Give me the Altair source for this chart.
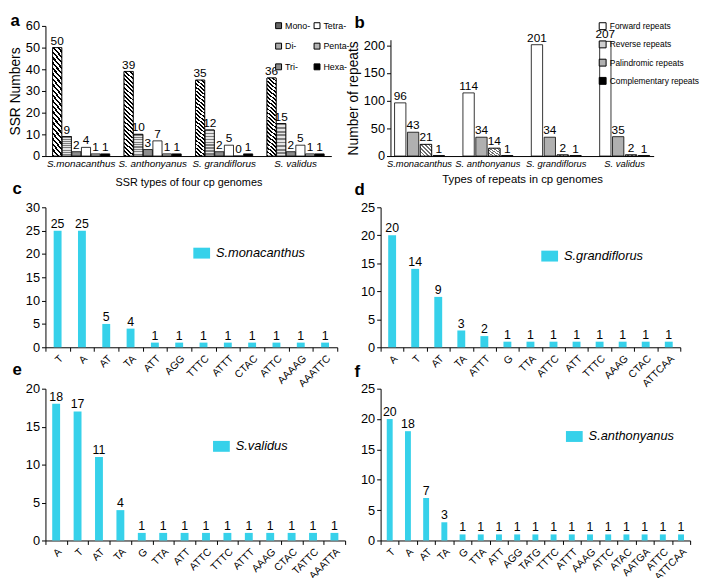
import json
import altair as alt
import pandas as pd

FONT = "Liberation Sans, Arial, sans-serif"

# ---------------- data ----------------
species = ["S.monacanthus", "S. anthonyanus", "S. grandiflorus", "S. validus"]
ssr_types = ["Mono-", "Di-", "Tri-", "Tetra-", "Penta-", "Hexa-"]
ssr_mono = [50, 39, 35, 36]
ssr_di = [9, 10, 12, 15]
ssr_tri = [2, 3, 2, 2]
ssr_tetra = [4, 7, 5, 5]
ssr_penta = [1, 1, 0, 1]
ssr_hexa = [1, 1, 1, 1]

repeat_types = ["Forward repeats", "Reverse repeats", "Palindromic repeats", "Complementary repeats"]
repeat_bar_order = ["Forward repeats", "Palindromic repeats", "Reverse repeats", "Complementary repeats"]
rep_forward = [96, 114, 201, 207]
rep_reverse = [21, 14, 2, 2]
rep_palindromic = [43, 34, 34, 35]
rep_complement = [1, 1, 1, 1]

c_motifs = ["T", "A", "AT", "TA", "ATT", "AGG", "TTTC", "ATTT", "CTAC", "ATTC", "AAAAG", "AAATTC"]
c_counts = [25, 25, 5, 4, 1, 1, 1, 1, 1, 1, 1, 1]
d_motifs = ["A", "T", "AT", "TA", "ATTT", "G", "TTA", "ATTC", "ATT", "TTTC", "AAAG", "CTAC", "ATTCAA"]
d_counts = [20, 14, 9, 3, 2, 1, 1, 1, 1, 1, 1, 1, 1]
e_motifs = ["A", "T", "AT", "TA", "G", "TTA", "ATT", "ATTC", "TTTC", "ATTT", "AAAG", "CTAC", "TATTC", "AAATTA"]
e_counts = [18, 17, 11, 4, 1, 1, 1, 1, 1, 1, 1, 1, 1, 1]
f_motifs = ["T", "A", "AT", "TA", "G", "TTA", "ATT", "AGG", "TATG", "TTTC", "ATTT", "AAAG", "ATTC", "ATAC", "AATGA", "ATTC", "ATTCAA"]
f_counts = [20, 18, 7, 3, 1, 1, 1, 1, 1, 1, 1, 1, 1, 1, 1, 1, 1]

CYAN = "#36d1ea"


# ---------------- helpers ----------------
def stripe_stops(n, c1, c2, frac=0.5):
    stops = []
    for i in range(n):
        a = i / n
        m = (i + frac) / n
        b = (i + 1) / n
        stops += [
            alt.GradientStop(offset=a, color=c1),
            alt.GradientStop(offset=m, color=c1),
            alt.GradientStop(offset=m, color=c2),
            alt.GradientStop(offset=b, color=c2),
        ]
    return stops


def diag_gradient(r, n, c1, c2, frac=0.45):
    # backslash-direction stripes for a bar with height/width ratio r
    k = (1 + r) / (1 + r * r)
    return alt.LinearGradient(gradient="linear", stops=stripe_stops(n, c1, c2, frac),
                              x1=0, y1=1, x2=k, y2=1 - r * k)


def horiz_gradient(n, c1, c2, frac=0.5):
    return alt.LinearGradient(gradient="linear", stops=stripe_stops(n, c1, c2, frac),
                              x1=0, y1=0, x2=0, y2=1)


def letter_layer(df, field, sort, text, tx, ty):
    # panel letter drawn as the title of a label-less top axis
    return alt.Chart(df).mark_bar(opacity=0).encode(
        x=alt.X(f"{field}:N", sort=sort,
                axis=alt.Axis(orient="top", labels=False, ticks=False, domain=False, title=text,
                              titleX=tx, titleY=ty, titleAngle=0, titleAlign="left",
                              titleBaseline="top", titleFontSize=17, titleFontWeight="bold",
                              titleColor="black", titleFont=FONT))
    )


# ---------------- panel a ----------------
rows = []
for t, vals in zip(ssr_types, [ssr_mono, ssr_di, ssr_tri, ssr_tetra, ssr_penta, ssr_hexa]):
    for s, v in zip(species, vals):
        rows.append({"species": s, "type": t, "value": v})
df_a = pd.DataFrame(rows)

base_a = alt.Chart(df_a).encode(
    x=alt.X("species:N", sort=species, title="SSR types of four cp genomes",
            scale=alt.Scale(paddingInner=0.2, paddingOuter=0.1),
            axis=alt.Axis(labelAngle=0, labelFontStyle="italic", labelFontSize=10,
                          ticks=False, labelOverlap=False, titleFontSize=11,
                          titleFontWeight="normal", titlePadding=8, labelPadding=3)),
    xOffset=alt.XOffset("type:N", sort=ssr_types, scale=alt.Scale(paddingInner=0.05)),
    y=alt.Y("value:Q", scale=alt.Scale(domain=[0, 60]),
            axis=alt.Axis(values=[0, 10, 20, 30, 40, 50, 60], title="SSR Numbers",
                          titleFontSize=14, titleFontWeight="normal", titlePadding=3)),
)
bars_a = base_a.mark_bar(stroke="black", strokeWidth=0.8).encode(
    fill=alt.Fill("type:N", scale=alt.Scale(domain=ssr_types,
                                            range=["#666666", "#aaaaaa", "#8c8c8c", "white", "#b4b4b4", "black"]),
                  legend=alt.Legend(orient="none", legendX=232, legendY=-5, columns=2, title=None,
                                    symbolType="square", symbolSize=36, symbolStrokeColor="black",
                                    symbolStrokeWidth=1, labelFontSize=9,
                                    columnPadding=1, rowPadding=10, labelOffset=2, padding=0))
)
mono_a = base_a.transform_filter(alt.datum.type == "Mono-").mark_bar(
    stroke="black", strokeWidth=0.8, fill=diag_gradient(10, 22, "black", "white", 0.45))
di_a = base_a.transform_filter(alt.datum.type == "Di-").mark_bar(
    stroke="black", strokeWidth=0.8, fill=horiz_gradient(9, "#7f7f7f", "#e6e6e6", 0.5))
text_a = base_a.mark_text(dy=-7, fontSize=12, font=FONT, color="black").encode(text="value:Q")
panel_a = alt.layer(
    alt.layer(bars_a, mono_a, di_a, text_a),
    letter_layer(df_a, "species", species, "a", -36, -13),
).resolve_axis(x="independent").properties(width=290, height=132)

# ---------------- panel b ----------------
rows = []
for t, vals in zip(repeat_types, [rep_forward, rep_reverse, rep_palindromic, rep_complement]):
    for s, v in zip(species, vals):
        rows.append({"species": s, "type": t, "value": v})
df_b = pd.DataFrame(rows)

base_b = alt.Chart(df_b).encode(
    x=alt.X("species:N", sort=species, title="Types of repeats in cp genomes",
            scale=alt.Scale(paddingInner=0.27, paddingOuter=0.06, range=[10, 277]),
            axis=alt.Axis(labelAngle=0, labelFontStyle="italic", labelFontSize=9.5,
                          ticks=False, labelOverlap=False, titleFontSize=11.5,
                          titleFontWeight="normal", titlePadding=5, labelPadding=3)),
    xOffset=alt.XOffset("type:N", sort=repeat_bar_order, scale=alt.Scale(paddingInner=0.12)),
    y=alt.Y("value:Q", scale=alt.Scale(domain=[0, 210], range=[132, 14]),
            axis=alt.Axis(values=[0, 50, 100, 150, 200], title="Number of repeats", offset=-10,
                          titleFontSize=14, titleFontWeight="normal", titlePadding=3)),
)
bars_b = base_b.mark_bar(stroke="black", strokeWidth=0.8).encode(
    fill=alt.Fill("type:N", scale=alt.Scale(domain=repeat_types,
                                            range=["white", "#cfcfcf", "#b0b0b0", "black"]),
                  legend=alt.Legend(orient="none", legendX=221, legendY=-4, title=None,
                                    direction="vertical",
                                    symbolType="square", symbolSize=49, symbolStrokeColor="black",
                                    symbolStrokeWidth=1, labelFontSize=8.5,
                                    rowPadding=6.5, labelOffset=3, padding=0, labelLimit=200))
)
rev_b = base_b.transform_filter(alt.datum.type == "Reverse repeats").mark_bar(
    stroke="black", strokeWidth=0.8, fill=diag_gradient(1, 6, "#6f6f6f", "white", 0.4))
text_b = base_b.mark_text(dy=-7, fontSize=12, font=FONT, color="black").encode(text="value:Q")
panel_b = alt.layer(
    alt.layer(bars_b, rev_b, text_b),
    letter_layer(df_b, "species", species, "b", -27, -11),
).resolve_axis(x="independent").properties(width=277, height=132)


# ---------------- motif panels ----------------
def motif_panel(motifs, counts, name, ymax, width, height, let, lx, ly, bar_w, tx, ty):
    ids = [str(i) for i in range(len(motifs))]
    df = pd.DataFrame({"id": ids, "motif": motifs, "count": counts, "sp": name})
    label_expr = json.dumps(motifs) + "[toNumber(datum.value)]"
    base = alt.Chart(df).encode(
        x=alt.X("id:N", sort=ids, title=None, scale=alt.Scale(paddingInner=0, paddingOuter=0),
                axis=alt.Axis(labelExpr=label_expr, labelAngle=-45, labelAlign="right",
                              labelBaseline="top", labelFontSize=10.5, tickBand="extent",
                              labelOverlap=False, labelPadding=2)),
        y=alt.Y("count:Q", scale=alt.Scale(domain=[0, ymax]),
                axis=alt.Axis(values=list(range(0, ymax + 1, 5)), title=None)),
    )
    bars = base.mark_bar(size=bar_w).encode(
        fill=alt.Fill("sp:N", scale=alt.Scale(domain=[name], range=[CYAN]),
                      legend=alt.Legend(orient="none", legendX=lx, legendY=ly, title=None,
                                        symbolType="M-1,-0.65H1V0.65H-1Z", symbolSize=289,
                                        symbolStrokeWidth=0, labelFontSize=13,
                                        labelFontStyle="italic", labelOffset=6, padding=0))
    )
    text = base.mark_text(dy=-7, fontSize=12.5, font=FONT, color="black").encode(text="count:Q")
    return alt.layer(
        alt.layer(bars, text),
        letter_layer(df, "id", ids, let, tx, ty),
    ).resolve_axis(x="independent").properties(width=width, height=height)


panel_c = motif_panel(c_motifs, c_counts, "S.monacanthus", 30, 296, 142, "c", 150, 38, 8, -34, -27)
panel_d = motif_panel(d_motifs, d_counts, "S.grandiflorus", 25, 304, 142, "d", 163, 41, 8, -27, -26)
panel_e = motif_panel(e_motifs, e_counts, "S.validus", 20, 304, 154, "e", 170, 50, 8, -34, -27)
panel_f = motif_panel(f_motifs, f_counts, "S.anthonyanus", 25, 314, 154, "f", 188, 40, 6, -27, -25)

chart = alt.concat(
    panel_a, panel_b, panel_c, panel_d, panel_e, panel_f,
    columns=2, spacing={"row": 30, "column": 26}, bounds="flush", align="all",
).resolve_scale(
    fill="independent", xOffset="independent", x="independent", y="independent"
).resolve_legend(fill="independent").properties(padding=0).configure(
    font=FONT, background="white"
).configure_view(stroke=None).configure_axis(
    domainColor="black", tickColor="black", labelColor="black", titleColor="black",
    grid=False, tickSize=4, labelFontSize=13, labelFont=FONT, titleFont=FONT, domainWidth=1,
    labelPadding=2,
).configure_legend(labelFont=FONT, labelColor="black")

chart.save("out.html", embed_options={"renderer": "svg", "actions": False})
